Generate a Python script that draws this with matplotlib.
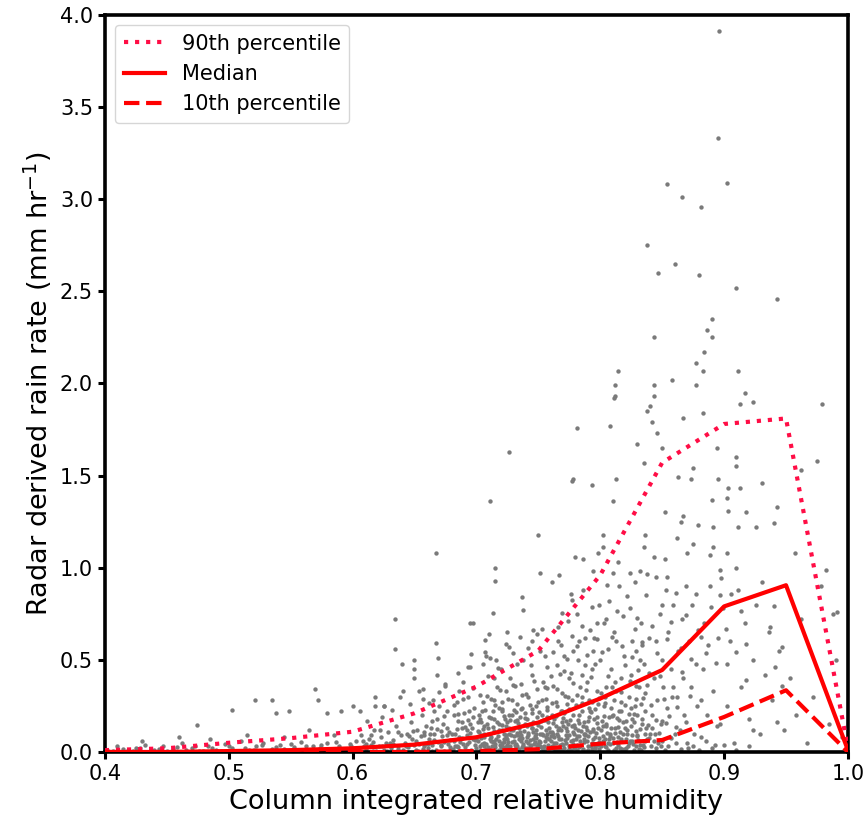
import matplotlib
matplotlib.use("Agg")
import matplotlib.pyplot as plt

# ---- percentile curves (bin centres of column relative humidity) ----
crh_bins = [0.40, 0.45, 0.50, 0.55, 0.60, 0.65, 0.70, 0.75, 0.80, 0.85, 0.90, 0.95, 1.00]
p90 = [0.01, 0.02, 0.05, 0.075, 0.11, 0.21, 0.355, 0.55, 0.96, 1.57, 1.78, 1.81, 0.02]
median = [0.0, 0.0, 0.005, 0.01, 0.02, 0.04, 0.08, 0.16, 0.29, 0.445, 0.79, 0.905, 0.01]
p10 = [0.0, 0.0, 0.0, 0.0, 0.0, 0.0, 0.005, 0.015, 0.045, 0.065, 0.19, 0.335, 0.0]

# ---- scatter points ----
pts_left = [
    (0.402, 0.01), (0.41, 0.03), (0.418, 0.005), (0.425, 0.02), (0.432, 0.04), (0.44, 0.01),
    (0.447, 0.03), (0.455, 0.015), (0.462, 0.05), (0.47, 0.02), (0.476, 0.005), (0.483, 0.035),
    (0.49, 0.01), (0.497, 0.045), (0.503, 0.02), (0.51, 0.06), (0.516, 0.01), (0.522, 0.03),
    (0.528, 0.05), (0.535, 0.015), (0.541, 0.04), (0.547, 0.005), (0.553, 0.025), (0.558, 0.055),
    (0.563, 0.01), (0.568, 0.035), (0.574, 0.02), (0.579, 0.05), (0.584, 0.005), (0.589, 0.03),
    (0.594, 0.015), (0.598, 0.045), (0.474, 0.147), (0.503, 0.23), (0.521, 0.28), (0.535, 0.28),
    (0.538, 0.21), (0.549, 0.22), (0.57, 0.34), (0.572, 0.28), (0.579, 0.21), (0.591, 0.22),
    (0.6, 0.25), (0.618, 0.3), (0.625, 0.25), (0.634, 0.72), (0.634, 0.56), (0.64, 0.48),
    (0.65, 0.5), (0.65, 0.4), (0.65, 0.45), (0.667, 1.08), (0.697, 0.70), (0.71, 0.64),
    (0.667, 0.59), (0.669, 0.51), (0.685, 0.43), (0.693, 0.46), (0.696, 0.53), (0.707, 0.61),
    (0.707, 0.54), (0.711, 0.51), (0.725, 0.65), (0.746, 0.66), (0.695, 0.70), (0.641, 0.33),
    (0.657, 0.34), (0.675, 0.37), (0.625, 0.25), (0.485, 0.07), (0.515, 0.09), (0.545, 0.08),
    (0.565, 0.12), (0.585, 0.09), (0.43, 0.06), (0.46, 0.08),
]

pts_strip = [
    (0.4065, 0.005), (0.4145, 0.015), (0.4225, 0.008), (0.4285, 0.022), (0.4365, 0.004),
    (0.4435, 0.018), (0.4505, 0.006), (0.4585, 0.028), (0.4655, 0.012), (0.4725, 0.035),
    (0.4795, 0.004), (0.4865, 0.02), (0.4935, 0.008), (0.5005, 0.032), (0.5065, 0.006),
    (0.5135, 0.024), (0.5205, 0.012), (0.5265, 0.04), (0.5325, 0.006), (0.5385, 0.028),
    (0.5445, 0.015), (0.5505, 0.045), (0.5565, 0.004), (0.5625, 0.03), (0.5685, 0.01),
    (0.5745, 0.04), (0.5805, 0.018), (0.5865, 0.055), (0.5925, 0.008), (0.5985, 0.03),
    (0.6045, 0.012), (0.6105, 0.045), (0.6165, 0.006), (0.6235, 0.03), (0.6305, 0.05),
    (0.6365, 0.015), (0.6435, 0.035), (0.6515, 0.012), (0.6585, 0.045), (0.6645, 0.008),
    (0.6715, 0.04), (0.6785, 0.01), (0.6855, 0.025), (0.6935, 0.005),
]

pts_cols_a = [
    (0.601, 0.02), (0.603, 0.06), (0.605, 0.01), (0.607, 0.09), (0.609, 0.035), (0.611, 0.015),
    (0.613, 0.07), (0.615, 0.04), (0.617, 0.12), (0.619, 0.005), (0.612, 0.17), (0.606, 0.22),
    (0.618, 0.25), (0.621, 0.03), (0.623, 0.08), (0.625, 0.01), (0.627, 0.05), (0.629, 0.11),
    (0.631, 0.02), (0.633, 0.065), (0.635, 0.14), (0.637, 0.035), (0.639, 0.09), (0.624, 0.19),
    (0.632, 0.23), (0.638, 0.3), (0.628, 0.005), (0.641, 0.01), (0.642, 0.05), (0.644, 0.1),
    (0.645, 0.025), (0.647, 0.16), (0.648, 0.07), (0.65, 0.04), (0.652, 0.12), (0.653, 0.005),
    (0.655, 0.085), (0.656, 0.2), (0.658, 0.03), (0.659, 0.14), (0.646, 0.26), (0.654, 0.33),
    (0.651, 0.06), (0.657, 0.018), (0.661, 0.02), (0.662, 0.07), (0.663, 0.13), (0.664, 0.04),
    (0.666, 0.1), (0.667, 0.01), (0.668, 0.18), (0.669, 0.055), (0.671, 0.03), (0.672, 0.085),
    (0.673, 0.15), (0.674, 0.005), (0.676, 0.22), (0.677, 0.045), (0.678, 0.11), (0.679, 0.065),
    (0.665, 0.28), (0.675, 0.36), (0.67, 0.25), (0.668, 0.42), (0.681, 0.015), (0.682, 0.06),
    (0.683, 0.1), (0.684, 0.035), (0.685, 0.17), (0.686, 0.08), (0.687, 0.005), (0.688, 0.13),
    (0.689, 0.045), (0.69, 0.21), (0.691, 0.025), (0.692, 0.09), (0.693, 0.3), (0.694, 0.055),
    (0.695, 0.15), (0.696, 0.01), (0.697, 0.07), (0.698, 0.24), (0.699, 0.04), (0.684, 0.27),
    (0.689, 0.38), (0.695, 0.46), (0.686, 0.33), (0.692, 0.12), (0.697, 0.19),
]

pts_cols_b = [
    (0.7, 0.02), (0.701, 0.06), (0.702, 0.11), (0.703, 0.035), (0.704, 0.16), (0.705, 0.005),
    (0.706, 0.08), (0.707, 0.23), (0.708, 0.045), (0.709, 0.13), (0.71, 0.015), (0.711, 0.095),
    (0.712, 0.29), (0.713, 0.055), (0.714, 0.18), (0.715, 0.025), (0.716, 0.07), (0.717, 0.35),
    (0.718, 0.12), (0.719, 0.04), (0.702, 0.2), (0.705, 0.27), (0.709, 0.41), (0.713, 0.22),
    (0.716, 0.5), (0.704, 0.09), (0.711, 0.01), (0.718, 0.15), (0.706, 0.03), (0.714, 0.06),
    (0.72, 0.01), (0.721, 0.05), (0.722, 0.1), (0.723, 0.025), (0.724, 0.14), (0.725, 0.07),
    (0.726, 0.2), (0.727, 0.035), (0.728, 0.12), (0.729, 0.005), (0.73, 0.085), (0.731, 0.17),
    (0.732, 0.045), (0.733, 0.26), (0.734, 0.015), (0.735, 0.11), (0.736, 0.06), (0.737, 0.31),
    (0.738, 0.03), (0.739, 0.15), (0.721, 0.22), (0.724, 0.33), (0.727, 0.4), (0.73, 0.23),
    (0.733, 0.48), (0.736, 0.37), (0.739, 0.21), (0.722, 0.055), (0.725, 0.02), (0.728, 0.09),
    (0.731, 0.04), (0.734, 0.13), (0.737, 0.075), (0.723, 0.18), (0.729, 0.28), (0.735, 0.19),
    (0.738, 0.005), (0.726, 0.095), (0.732, 0.01), (0.74, 0.06),
    (0.741, 0.02), (0.742, 0.09), (0.743, 0.15), (0.744, 0.04), (0.745, 0.21), (0.746, 0.07),
    (0.747, 0.005), (0.748, 0.12), (0.749, 0.03), (0.75, 0.27), (0.751, 0.055), (0.752, 0.17),
    (0.753, 0.1), (0.754, 0.015), (0.755, 0.35), (0.756, 0.08), (0.757, 0.23), (0.758, 0.04),
    (0.759, 0.13), (0.742, 0.3), (0.745, 0.42), (0.748, 0.25), (0.751, 0.55), (0.754, 0.38),
    (0.757, 0.46), (0.743, 0.065), (0.746, 0.11), (0.749, 0.19), (0.752, 0.025), (0.755, 0.06),
    (0.758, 0.16), (0.744, 0.01), (0.747, 0.085), (0.75, 0.045), (0.753, 0.2), (0.756, 0.29),
    (0.759, 0.07), (0.741, 0.14), (0.75, 0.005), (0.757, 0.1), (0.745, 0.6), (0.753, 0.67),
]

pts_cols_c = [
    (0.761, 0.03), (0.762, 0.1), (0.763, 0.18), (0.764, 0.05), (0.765, 0.25), (0.766, 0.015),
    (0.767, 0.13), (0.768, 0.07), (0.769, 0.32), (0.77, 0.04), (0.771, 0.21), (0.772, 0.09),
    (0.773, 0.005), (0.774, 0.15), (0.775, 0.4), (0.776, 0.06), (0.777, 0.28), (0.778, 0.11),
    (0.779, 0.02), (0.762, 0.36), (0.765, 0.47), (0.768, 0.22), (0.771, 0.52), (0.774, 0.3),
    (0.777, 0.63), (0.763, 0.08), (0.766, 0.12), (0.769, 0.045), (0.772, 0.17), (0.775, 0.035),
    (0.778, 0.2), (0.764, 0.27), (0.767, 0.01), (0.77, 0.14), (0.773, 0.075), (0.776, 0.43),
    (0.779, 0.095), (0.761, 0.2), (0.768, 0.58), (0.774, 0.71), (0.78, 0.025),
    (0.781, 0.04), (0.782, 0.12), (0.783, 0.2), (0.784, 0.06), (0.785, 0.3), (0.786, 0.01),
    (0.787, 0.16), (0.788, 0.09), (0.789, 0.38), (0.79, 0.03), (0.791, 0.24), (0.792, 0.11),
    (0.793, 0.45), (0.794, 0.07), (0.795, 0.18), (0.796, 0.02), (0.797, 0.33), (0.798, 0.13),
    (0.799, 0.055), (0.782, 0.5), (0.785, 0.42), (0.788, 0.62), (0.791, 0.28), (0.794, 0.55),
    (0.797, 0.7), (0.783, 0.085), (0.786, 0.14), (0.789, 0.005), (0.792, 0.22), (0.795, 0.045),
    (0.798, 0.26), (0.784, 0.35), (0.787, 0.1), (0.79, 0.17), (0.793, 0.015), (0.796, 0.48),
    (0.799, 0.8), (0.781, 0.75), (0.786, 0.88), (0.792, 0.66),
    (0.801, 0.03), (0.802, 0.14), (0.803, 0.25), (0.804, 0.07), (0.805, 0.35), (0.806, 0.01),
    (0.807, 0.19), (0.808, 0.1), (0.809, 0.45), (0.81, 0.05), (0.811, 0.28), (0.812, 0.13),
    (0.813, 0.6), (0.814, 0.08), (0.815, 0.22), (0.816, 0.02), (0.817, 0.4), (0.818, 0.16),
    (0.819, 0.52), (0.803, 0.7), (0.807, 0.82), (0.811, 0.65), (0.815, 0.9), (0.818, 0.74),
    (0.804, 0.3), (0.808, 0.045), (0.812, 0.38), (0.816, 0.11), (0.81, 0.2), (0.806, 0.56),
]

pts_cols_d = [
    (0.821, 0.02), (0.822, 0.12), (0.823, 0.3), (0.824, 0.06), (0.825, 0.42), (0.826, 0.18),
    (0.827, 0.01), (0.828, 0.25), (0.829, 0.55), (0.83, 0.09), (0.831, 0.35), (0.832, 0.04),
    (0.833, 0.7), (0.834, 0.15), (0.835, 0.48), (0.836, 0.22), (0.837, 0.85), (0.838, 0.07),
    (0.839, 0.62), (0.824, 0.78), (0.828, 0.92), (0.832, 0.5), (0.836, 0.32), (0.826, 0.6),
    (0.83, 0.2), (0.841, 0.03), (0.842, 0.2), (0.843, 0.4), (0.844, 0.1), (0.845, 0.6),
    (0.846, 0.28), (0.847, 0.05), (0.848, 0.75), (0.849, 0.15), (0.85, 0.5), (0.851, 0.35),
    (0.852, 0.01), (0.853, 0.88), (0.854, 0.24), (0.855, 0.65), (0.856, 0.08), (0.857, 0.45),
    (0.858, 0.3), (0.859, 0.8), (0.845, 0.95), (0.85, 0.17), (0.861, 0.05), (0.862, 0.3),
    (0.863, 0.55), (0.864, 0.12), (0.866, 0.72), (0.867, 0.4), (0.868, 0.2), (0.869, 0.9),
    (0.871, 0.02), (0.872, 0.6), (0.873, 0.35), (0.874, 0.8), (0.876, 0.1), (0.877, 0.48),
    (0.878, 0.25), (0.879, 0.66), (0.881, 0.08), (0.883, 0.45), (0.884, 0.7), (0.886, 0.2),
    (0.887, 0.58), (0.889, 0.9), (0.891, 0.33), (0.893, 0.04), (0.895, 0.62), (0.897, 0.15),
    (0.899, 0.78), (0.902, 0.25), (0.905, 0.6), (0.908, 0.05), (0.911, 0.88), (0.914, 0.35),
    (0.917, 0.7), (0.92, 0.18), (0.923, 0.5), (0.926, 0.8), (0.929, 0.1), (0.933, 0.42),
    (0.936, 0.65), (0.939, 0.28), (0.944, 0.55), (0.948, 0.12), (0.953, 0.4), (0.958, 0.2),
    (0.962, 0.72), (0.967, 0.05), (0.972, 0.3), (0.978, 0.9), (0.985, 0.15), (0.99, 0.5),
    (0.995, 0.08), (0.988, 0.75),
]

pts_core = [
    (0.7, 0.07), (0.703, 0.01), (0.706, 0.05), (0.709, 0.025), (0.712, 0.08), (0.715, 0.045),
    (0.718, 0.01), (0.721, 0.035), (0.724, 0.08), (0.727, 0.015), (0.73, 0.06), (0.733, 0.03),
    (0.736, 0.09), (0.739, 0.02), (0.742, 0.05), (0.745, 0.01), (0.748, 0.075), (0.751, 0.03),
    (0.754, 0.09), (0.757, 0.015), (0.76, 0.06), (0.763, 0.025), (0.766, 0.085), (0.769, 0.01),
    (0.772, 0.05), (0.775, 0.015), (0.778, 0.065), (0.781, 0.01), (0.784, 0.03), (0.787, 0.07),
    (0.79, 0.01), (0.793, 0.05), (0.796, 0.08), (0.799, 0.015), (0.802, 0.06), (0.805, 0.025),
    (0.808, 0.085), (0.811, 0.01), (0.814, 0.04), (0.817, 0.07), (0.82, 0.015), (0.823, 0.05),
    (0.826, 0.09), (0.829, 0.03), (0.833, 0.01), (0.836, 0.06), (0.84, 0.1), (0.845, 0.02),
    (0.85, 0.06), (0.855, 0.03), (0.86, 0.1), (0.865, 0.015), (0.87, 0.05), (0.875, 0.03),
    (0.88, 0.01), (0.885, 0.06), (0.89, 0.02), (0.9, 0.04), (0.91, 0.01), (0.92, 0.03),
    (0.721, 0.27), (0.725, 0.16), (0.729, 0.2), (0.733, 0.09), (0.737, 0.24), (0.741, 0.18),
    (0.745, 0.13), (0.749, 0.34), (0.753, 0.28), (0.757, 0.19), (0.761, 0.11), (0.765, 0.34),
    (0.769, 0.16), (0.773, 0.26), (0.777, 0.14), (0.781, 0.31), (0.785, 0.22), (0.789, 0.12),
    (0.793, 0.27), (0.797, 0.19), (0.801, 0.32), (0.805, 0.15), (0.809, 0.24), (0.813, 0.33),
    (0.817, 0.27), (0.821, 0.17), (0.825, 0.24), (0.829, 0.36), (0.833, 0.26), (0.837, 0.13),
    (0.706, 0.14), (0.71, 0.19), (0.714, 0.28), (0.718, 0.24), (0.694, 0.22), (0.688, 0.16),
    (0.682, 0.2), (0.676, 0.13), (0.664, 0.17), (0.658, 0.09),
    (0.703, 0.31), (0.708, 0.52), (0.714, 0.4), (0.72, 0.45), (0.726, 0.57), (0.731, 0.36),
    (0.738, 0.5), (0.744, 0.47), (0.749, 0.64), (0.755, 0.52), (0.76, 0.41), (0.766, 0.68),
    (0.771, 0.44), (0.778, 0.55), (0.783, 0.6), (0.788, 0.47), (0.795, 0.62), (0.8, 0.5),
    (0.805, 0.72), (0.82, 0.47), (0.828, 0.67), (0.834, 0.58), (0.839, 0.43),
]

pts_core_low = [
    (0.7015, 0.115), (0.7035, 0.075), (0.7055, 0.125), (0.7075, 0.018), (0.7095, 0.098),
    (0.7115, 0.058), (0.7135, 0.138), (0.7155, 0.008), (0.7175, 0.088), (0.7195, 0.028),
    (0.7205, 0.118), (0.7225, 0.072), (0.7245, 0.038), (0.7265, 0.132), (0.7285, 0.052),
    (0.7305, 0.008), (0.7325, 0.102), (0.7345, 0.068), (0.7365, 0.028), (0.7385, 0.112),
    (0.7405, 0.082), (0.7425, 0.012), (0.7445, 0.128), (0.7465, 0.042), (0.7485, 0.098),
    (0.7505, 0.062), (0.7525, 0.138), (0.7545, 0.032), (0.7565, 0.118), (0.7585, 0.002),
    (0.7605, 0.088), (0.7625, 0.048), (0.7645, 0.142), (0.7665, 0.068), (0.7685, 0.118),
    (0.7705, 0.022), (0.7725, 0.128), (0.7745, 0.092), (0.7765, 0.012), (0.7785, 0.148),
    (0.7805, 0.072), (0.7825, 0.028), (0.7845, 0.115), (0.7865, 0.055), (0.7885, 0.135),
    (0.7905, 0.085), (0.7925, 0.035), (0.7945, 0.125), (0.7965, 0.105), (0.7985, 0.038),
    (0.8005, 0.118), (0.8025, 0.088), (0.8045, 0.142), (0.8065, 0.048), (0.8085, 0.128),
    (0.8105, 0.075), (0.8125, 0.022), (0.8145, 0.135), (0.8165, 0.058), (0.8185, 0.098),
    (0.8205, 0.072), (0.8225, 0.032), (0.8245, 0.142), (0.8265, 0.045), (0.8285, 0.112),
    (0.8305, 0.065), (0.8325, 0.125), (0.8345, 0.038), (0.8365, 0.095), (0.8385, 0.145),
    (0.6805, 0.095), (0.6825, 0.035), (0.6845, 0.125), (0.6865, 0.052), (0.6885, 0.078),
    (0.6905, 0.138), (0.6925, 0.042), (0.6945, 0.105), (0.6965, 0.128), (0.6985, 0.065),
    (0.6605, 0.045), (0.6625, 0.098), (0.6655, 0.065), (0.6685, 0.125), (0.6715, 0.112),
    (0.6735, 0.052), (0.6765, 0.092), (0.6785, 0.028), (0.6455, 0.085), (0.6485, 0.115),
    (0.6535, 0.045), (0.6575, 0.108), (0.6325, 0.042), (0.6365, 0.108), (0.6165, 0.052),
    (0.6225, 0.118), (0.6085, 0.062), (0.6145, 0.092),
]

pts_core_dense = [
    (0.7128, 0.032), (0.7146, 0.112), (0.7164, 0.165), (0.7182, 0.062), (0.7208, 0.148),
    (0.7236, 0.092), (0.7254, 0.052), (0.7272, 0.172), (0.7298, 0.122), (0.7316, 0.025),
    (0.7334, 0.155), (0.7352, 0.085), (0.7378, 0.045), (0.7396, 0.182), (0.7414, 0.105),
    (0.7432, 0.035), (0.7458, 0.165), (0.7476, 0.055), (0.7494, 0.145), (0.7512, 0.095),
    (0.7538, 0.018), (0.7556, 0.175), (0.7574, 0.075), (0.7592, 0.108), (0.7618, 0.158),
    (0.7636, 0.012), (0.7654, 0.098), (0.7672, 0.038), (0.7698, 0.185), (0.7716, 0.065),
    (0.7734, 0.115), (0.7752, 0.172), (0.7778, 0.042), (0.7796, 0.128), (0.7814, 0.088),
    (0.7832, 0.158), (0.7858, 0.018), (0.7876, 0.098), (0.7894, 0.062), (0.7912, 0.188),
    (0.7938, 0.115), (0.7956, 0.025), (0.7974, 0.155), (0.7992, 0.075), (0.8018, 0.168),
    (0.8036, 0.035), (0.8054, 0.105), (0.8072, 0.068), (0.8098, 0.195), (0.8116, 0.102),
    (0.8134, 0.055), (0.8152, 0.175), (0.8178, 0.015), (0.8196, 0.132), (0.8214, 0.095),
    (0.8232, 0.205), (0.8258, 0.058), (0.8276, 0.162), (0.8294, 0.088), (0.8312, 0.018),
    (0.7106, 0.072), (0.7088, 0.152), (0.7062, 0.098), (0.7044, 0.045), (0.7026, 0.178),
    (0.8338, 0.178), (0.8356, 0.025), (0.8392, 0.078), (0.8418, 0.128), (0.8436, 0.062),
    (0.8472, 0.105), (0.8494, 0.035), (0.8532, 0.155), (0.8574, 0.075), (0.8612, 0.135),
    (0.7322, 0.215), (0.7446, 0.235), (0.7568, 0.245), (0.7688, 0.225), (0.7806, 0.255),
    (0.7924, 0.215), (0.8042, 0.265), (0.8164, 0.225), (0.8286, 0.285), (0.7208, 0.235),
]

pts_core_mid = [
    (0.7012, 0.165), (0.7048, 0.225), (0.7082, 0.305), (0.7118, 0.185), (0.7152, 0.255),
    (0.7188, 0.335), (0.7222, 0.195), (0.7258, 0.285), (0.7292, 0.365), (0.7328, 0.175),
    (0.7362, 0.235), (0.7398, 0.315), (0.7432, 0.255), (0.7468, 0.385), (0.7502, 0.215),
    (0.7538, 0.175), (0.7572, 0.345), (0.7608, 0.265), (0.7642, 0.195), (0.7678, 0.425),
    (0.7712, 0.305), (0.7748, 0.235), (0.7782, 0.375), (0.7818, 0.175), (0.7852, 0.265),
    (0.7888, 0.335), (0.7922, 0.405), (0.7958, 0.235), (0.7992, 0.295), (0.8028, 0.195),
    (0.8062, 0.415), (0.8098, 0.355), (0.8132, 0.185), (0.8168, 0.325), (0.8202, 0.255),
    (0.8238, 0.385), (0.8272, 0.205), (0.8308, 0.445), (0.8342, 0.295), (0.8378, 0.365),
    (0.8412, 0.255), (0.8448, 0.175), (0.8482, 0.415), (0.8518, 0.285), (0.8552, 0.195),
    (0.8588, 0.355), (0.8622, 0.245), (0.8658, 0.435), (0.8692, 0.165), (0.8728, 0.305),
    (0.6815, 0.255), (0.6855, 0.205), (0.6895, 0.285), (0.6935, 0.175), (0.6975, 0.345),
    (0.6735, 0.195), (0.6695, 0.325), (0.6655, 0.225), (0.6615, 0.265), (0.6565, 0.285),
]

pts_core_high = [
    (0.7615, 0.545), (0.7655, 0.605), (0.7695, 0.755), (0.7735, 0.505), (0.7775, 0.825),
    (0.7815, 0.575), (0.7855, 0.685), (0.7895, 0.525), (0.7935, 0.785), (0.7975, 0.615),
    (0.8015, 0.545), (0.8055, 0.905), (0.8095, 0.625), (0.8135, 0.765), (0.8175, 0.575),
    (0.8215, 0.845), (0.8255, 0.515), (0.8295, 0.725), (0.8335, 0.595), (0.8375, 0.965),
    (0.8415, 0.685), (0.8455, 0.535), (0.8495, 0.795), (0.8535, 0.615), (0.8575, 0.705),
    (0.8615, 0.865), (0.8655, 0.565), (0.8695, 0.745), (0.8735, 0.505), (0.8775, 0.855),
    (0.8815, 0.625), (0.8855, 0.535), (0.8895, 0.785), (0.8935, 0.485), (0.8975, 0.945),
    (0.9015, 0.665), (0.9055, 0.855), (0.9095, 0.545), (0.9135, 0.765), (0.9175, 0.585),
    (0.7415, 0.565), (0.7355, 0.625), (0.7295, 0.535), (0.7235, 0.585), (0.7175, 0.455),
    (0.7135, 0.755), (0.7055, 0.475),
]

pts_upper = [
    (0.812, 1.99), (0.843, 1.99), (0.858, 2.02), (0.877, 1.99), (0.812, 1.93), (0.843, 1.93),
    (0.917, 1.95), (0.913, 1.89), (0.923, 1.90), (0.979, 1.89), (0.840, 1.88), (0.838, 1.85),
    (0.883, 1.84), (0.781, 1.76), (0.808, 1.77), (0.842, 1.79), (0.867, 1.81), (0.846, 1.73),
    (0.726, 1.63), (0.830, 1.67), (0.835, 1.57), (0.850, 1.65), (0.894, 1.65), (0.910, 1.60),
    (0.910, 1.55), (0.975, 1.58), (0.962, 1.53), (0.875, 1.54), (0.778, 1.48), (0.813, 1.48),
    (0.863, 1.49), (0.873, 1.48), (0.895, 1.48), (0.903, 1.43), (0.913, 1.43), (0.931, 1.46),
    (0.711, 1.36), (0.902, 1.38), (0.890, 1.37), (0.918, 1.30), (0.943, 1.33), (0.852, 1.30),
    (0.903, 1.31), (0.867, 1.28), (0.750, 1.18), (0.802, 1.18), (0.836, 1.18), (0.865, 1.25),
    (0.879, 1.23), (0.891, 1.22), (0.911, 1.22), (0.926, 1.22), (0.940, 1.24), (0.862, 1.16),
    (0.875, 1.13), (0.891, 1.11), (0.957, 1.08), (0.835, 1.11), (0.843, 1.06), (0.852, 1.05),
    (0.870, 1.08), (0.889, 1.07), (0.902, 1.08), (0.780, 1.06), (0.798, 1.08), (0.982, 0.99),
    (0.715, 0.93), (0.751, 0.97), (0.767, 0.96), (0.814, 1.03), (0.824, 0.97), (0.832, 0.98),
    (0.854, 0.95), (0.897, 0.99), (0.910, 1.00), (0.761, 0.92), (0.737, 0.84), (0.738, 0.77),
    (0.776, 0.86), (0.897, 0.85), (0.931, 0.92), (0.940, 0.79), (0.937, 0.68), (0.947, 0.57),
    (0.991, 0.76), (0.902, 0.48), (0.941, 0.46), (0.918, 0.39), (0.947, 0.36), (0.923, 0.12),
    (0.943, 0.16), (0.881, 0.28), (0.894, 0.14), (0.811, 1.92), (0.777, 1.47), (0.793, 1.45),
    (0.81, 1.36), (0.786, 1.05), (0.715, 1.0), (0.794, 0.98), (0.802, 1.11), (0.81, 0.97),
]

pts_outliers = [
    (0.896, 3.91), (0.895, 3.33), (0.902, 3.09), (0.854, 3.08), (0.866, 3.01), (0.881, 2.96),
    (0.838, 2.75), (0.860, 2.65), (0.847, 2.60), (0.880, 2.59), (0.910, 2.52), (0.943, 2.46),
    (0.890, 2.35), (0.886, 2.29), (0.890, 2.25), (0.843, 2.25), (0.884, 2.17), (0.877, 2.11),
    (0.883, 2.07), (0.911, 2.07), (0.814, 2.07),
]

all_pts = (pts_left + pts_strip + pts_cols_a + pts_cols_b + pts_cols_c + pts_cols_d
           + pts_core + pts_core_low + pts_core_dense + pts_core_mid + pts_core_high
           + pts_upper + pts_outliers)
xs = [p[0] for p in all_pts]
ys = [p[1] for p in all_pts]

fig = plt.figure(figsize=(8.67, 8.24), dpi=100)
ax = fig.add_axes([0.121, 0.0874, 0.857, 0.8945])

ax.scatter(xs, ys, s=10, color="#7a7a7a", linewidths=0, zorder=2)

ax.plot(crh_bins, p90, linestyle=":", color="#ff0d45", lw=3, label="90th percentile", zorder=3)
ax.plot(crh_bins, median, linestyle="-", color="#ff0000", lw=3, label="Median", zorder=3)
ax.plot(crh_bins, p10, linestyle="--", color="#ff0000", lw=3, label="10th percentile", zorder=3)

ax.set_xlim(0.4, 1.0)
ax.set_ylim(0.0, 4.0)
ax.set_xticks([0.4, 0.5, 0.6, 0.7, 0.8, 0.9, 1.0])
ax.set_yticks([0.0, 0.5, 1.0, 1.5, 2.0, 2.5, 3.0, 3.5, 4.0])
ax.tick_params(labelsize=15, width=2.2, length=5, direction="out")

for sp in ax.spines.values():
    sp.set_linewidth(2.6)
    sp.set_color("black")

ax.set_xlabel("Column integrated relative humidity", fontsize=19.5)
ax.set_ylabel("Radar derived rain rate (mm hr$^{-1}$)", fontsize=19.5)

leg = ax.legend(loc="upper left", fontsize=15, frameon=True, handlelength=2)
leg.get_frame().set_edgecolor("#cccccc")

fig.savefig("out.png", dpi=100)
